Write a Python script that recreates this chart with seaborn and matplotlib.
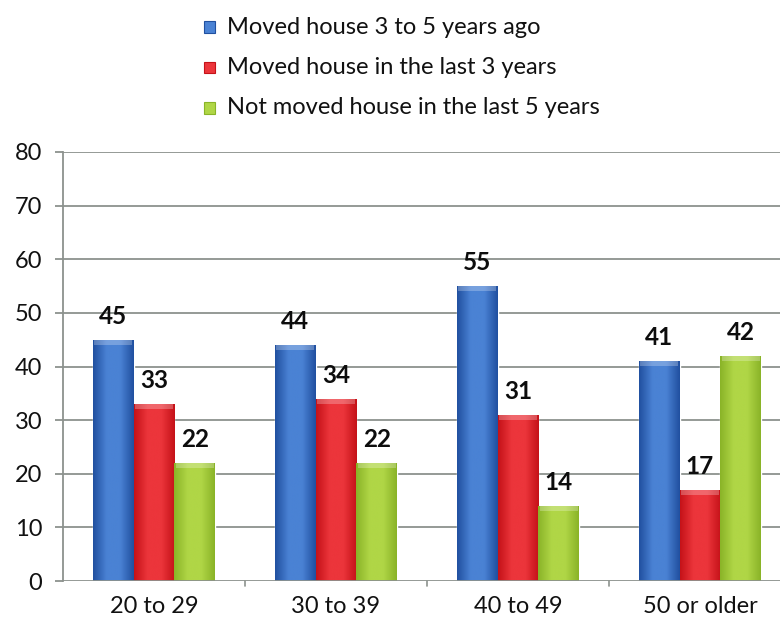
import numpy as np
import pandas as pd
import matplotlib
matplotlib.use("Agg")
import matplotlib.pyplot as plt
import seaborn as sns
from matplotlib.colors import LinearSegmentedColormap
from matplotlib.patches import Rectangle

age_groups = ["20 to 29", "30 to 39", "40 to 49", "50 or older"]
series_names = [
    "Moved house 3 to 5 years ago",
    "Moved house in the last 3 years",
    "Not moved house in the last 5 years",
]
moved_3_to_5 = [45, 44, 55, 41]
moved_last_3 = [33, 34, 31, 17]
not_moved_5 = [22, 22, 14, 42]
y_ticks = [0, 10, 20, 30, 40, 50, 60, 70, 80]

df = pd.DataFrame({
    "age": age_groups * 3,
    "series": [series_names[0]] * 4 + [series_names[1]] * 4 + [series_names[2]] * 4,
    "value": moved_3_to_5 + moved_last_3 + not_moved_5,
})

sns.set_theme(style="white")
plt.rcParams["font.family"] = ["Lato", "DejaVu Sans"]

# (dark edge, light centre) for each series' shaded bar
shades = {
    series_names[0]: ("#2150a0", "#4a82d4"),
    series_names[1]: ("#c51219", "#ec353b"),
    series_names[2]: ("#8ab428", "#b0d646"),
}
palette = {k: v[1] for k, v in shades.items()}

fig = plt.figure(figsize=(7.8, 6.29), dpi=100)
ax = fig.add_axes([63 / 780, 48 / 629, (780 - 63) / 780, (581 - 152) / 629])

sns.barplot(data=df, x="age", y="value", hue="series", hue_order=series_names,
            order=age_groups, palette=palette, width=0.675, gap=0,
            saturation=1, ax=ax, legend=False, zorder=3)

ax.set_ylim(0, 80)
ax.set_xlim(-0.5, 3.5 - 11 / 182)
ax.set_yticks(y_ticks)
ax.set_xticks(np.arange(len(age_groups)))
ax.set_xticklabels(age_groups)
ax.set_xlabel("")
ax.set_ylabel("")

# horizontal gridlines
for t in y_ticks[1:]:
    ax.axhline(t, color="#8c928d", lw=1.3, zorder=1)

# bar shading: dark edges, lighter middle, light cap
for container, name in zip(ax.containers, series_names):
    dark, light = shades[name]
    cmap = LinearSegmentedColormap.from_list(name, [dark, light, light, dark])
    grad = np.linspace(0, 1, 64).reshape(1, -1)
    for bar in container:
        x0, y0 = bar.get_x(), bar.get_y()
        w, h = bar.get_width(), bar.get_height()
        im = ax.imshow(grad, cmap=cmap, aspect="auto",
                       extent=(x0, x0 + w, y0, y0 + h), zorder=3.5,
                       interpolation="bicubic")
        im.set_clip_path(bar)
        ax.add_patch(Rectangle((x0 + w * 0.04, y0 + h - 0.9), w * 0.92, 0.9,
                               facecolor="white", alpha=0.25, lw=0, zorder=3.6))
        ax.text(x0 + w / 2, y0 + h + 2.2, f"{int(round(h))}",
                ha="center", va="bottom", fontsize=17.5, fontweight="bold",
                color="#0d0d0d", zorder=5)
    ax.set_xlim(-0.5, 3.5 - 11 / 182)
    ax.set_ylim(0, 80)

for s in ["top", "right", "bottom"]:
    ax.spines[s].set_visible(False)
ax.spines["left"].set_color("#8c928d")
ax.spines["left"].set_linewidth(1.3)
ax.axhline(0, color="#8c928d", lw=1.3, zorder=4)

# category separators on the baseline
for xs in [0.5, 1.5, 2.5]:
    ax.plot([xs, xs], [0, -1.0], color="#8c928d", lw=1.2, clip_on=False)

ax.tick_params(axis="y", length=6, width=1.3, color="#8c928d", labelsize=17,
               labelcolor="#111111", pad=9, left=True)
ax.tick_params(axis="x", length=0, labelsize=17, labelcolor="#111111", pad=11)

# legend
for i, name in enumerate(series_names):
    dark, light = shades[name]
    y = 1 - (27 + 40.5 * i) / 629
    fig.patches.append(Rectangle((204 / 780, y - 5.5 / 629), 11 / 780, 11 / 629,
                                 transform=fig.transFigure, facecolor=light,
                                 edgecolor=dark, lw=0.8))
    fig.text(227 / 780, y, name, ha="left", va="center", fontsize=17,
             color="#111111")

fig.savefig("out.png", dpi=100)
